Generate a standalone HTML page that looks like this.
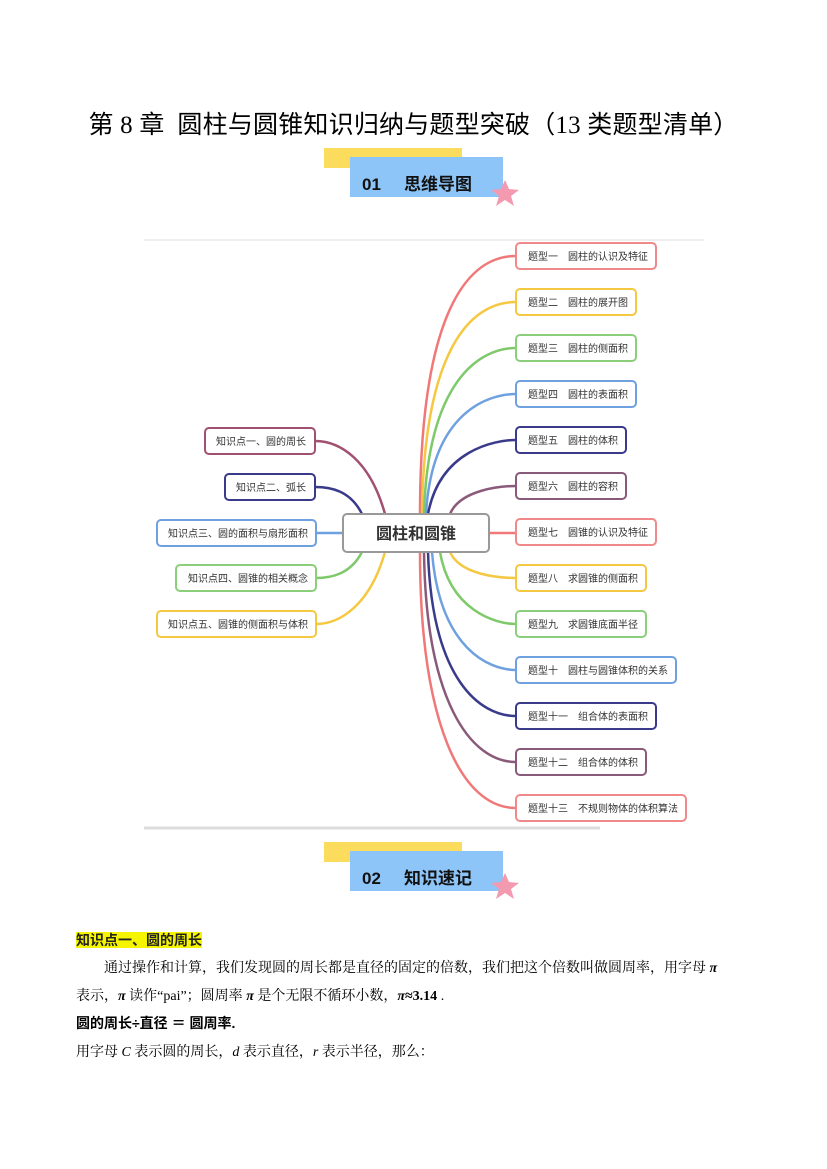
<!DOCTYPE html>
<html><head><meta charset="utf-8"><style>
body{margin:0;background:#fff;}
.pg{position:relative;width:827px;height:1169px;overflow:hidden;font-family:"Liberation Serif","Noto Serif CJK SC",serif;color:#000}
.t{position:absolute;left:0;width:827px;top:105px;text-align:center;font-size:25px;letter-spacing:0.2px;font-family:"Liberation Serif","Noto Sans CJK SC",sans-serif;}
.ln{position:absolute;left:76px;font-size:14px;font-family:"Liberation Serif","Noto Serif CJK SC",serif;white-space:nowrap}
</style></head><body><div class="pg">
<div class="t">第 8 章&nbsp; 圆柱与圆锥知识归纳与题型突破（13 类题型清单）</div>

<svg width="827" height="1169" style="position:absolute;left:0;top:0" font-family="Liberation Sans,Noto Sans CJK SC,sans-serif">
<rect x="324" y="148" width="138" height="20" fill="#fcdc5c"/>
<rect x="350" y="157" width="153" height="40" fill="#8ec5f8"/>
<text x="362" y="190" font-size="17" font-weight="bold" fill="#111">01</text>
<text x="404" y="190" font-size="17" font-weight="bold" fill="#111">思维导图</text>
<polygon points="505,180 509,189 519,190 511,196 514,206 505,200 496,206 499,196 491,190 501,189" fill="#f49ab0"/>
<rect x="324" y="842" width="138" height="20" fill="#fcdc5c"/>
<rect x="350" y="851" width="153" height="40" fill="#8ec5f8"/>
<text x="362" y="884" font-size="17" font-weight="bold" fill="#111">02</text>
<text x="404" y="884" font-size="17" font-weight="bold" fill="#111">知识速记</text>
<polygon points="505,873 509,882 519,883 511,889 514,899 505,893 496,899 499,889 491,883 501,882" fill="#f49ab0"/>

<line x1="144" y1="240" x2="704" y2="240" stroke="#eee" stroke-width="2"/>
<line x1="144" y1="828" x2="600" y2="828" stroke="#ddd" stroke-width="3"/>

<g fill="none" stroke-width="2.5">
<path d="M420,514 C420,330 460,256 516,256" stroke="#f07878"/>
<path d="M422,514 C424,350 470,302 516,302" stroke="#f5c842"/>
<path d="M424,514 C428,380 480,348 516,348" stroke="#7ec96a"/>
<path d="M426,514 C432,410 490,394 516,394" stroke="#6fa0e0"/>
<path d="M428,514 C440,450 495,440 516,440" stroke="#3a3a8a"/>
<path d="M450,514 C460,490 500,486 516,486" stroke="#8a5a7a"/>
<path d="M489,533 L516,533" stroke="#f07878"/>
<path d="M450,552 C460,575 500,578 516,578" stroke="#f5c842"/>
<path d="M440,552 C450,610 495,624 516,624" stroke="#7ec96a"/>
<path d="M432,552 C440,650 490,670 516,670" stroke="#6fa0e0"/>
<path d="M428,552 C432,680 480,716 516,716" stroke="#3a3a8a"/>
<path d="M424,552 C426,700 470,762 516,762" stroke="#8a5a7a"/>
<path d="M420,552 C420,720 460,808 516,808" stroke="#f07878"/>
<path d="M385,514 C370,460 340,441 315,441" stroke="#a05070"/>
<path d="M362,514 C350,490 330,487 315,487" stroke="#3a3a8a"/>
<path d="M343,533 L316,533" stroke="#6fa0e0"/>
<path d="M362,552 C350,575 330,578 316,578" stroke="#7ec96a"/>
<path d="M385,552 C370,605 340,624 316,624" stroke="#f5c842"/>
</g>

<g font-size="10" fill="#333" stroke-width="2">
<rect x="343" y="514" width="146" height="38" rx="4" fill="#fff" stroke="#999"/>
<text x="416" y="539" font-size="16" font-weight="bold" text-anchor="middle" fill="#333">圆柱和圆锥</text>
<rect x="516" y="243" width="140" height="26" rx="4" fill="#fff" stroke="#f08a8a"/><text x="528" y="260">题型一　圆柱的认识及特征</text>
<rect x="516" y="289" width="120" height="26" rx="4" fill="#fff" stroke="#f5c842"/><text x="528" y="306">题型二　圆柱的展开图</text>
<rect x="516" y="335" width="120" height="26" rx="4" fill="#fff" stroke="#8ccf7a"/><text x="528" y="352">题型三　圆柱的侧面积</text>
<rect x="516" y="381" width="120" height="26" rx="4" fill="#fff" stroke="#6fa0e0"/><text x="528" y="398">题型四　圆柱的表面积</text>
<rect x="516" y="427" width="110" height="26" rx="4" fill="#fff" stroke="#3a3a8a"/><text x="528" y="444">题型五　圆柱的体积</text>
<rect x="516" y="473" width="110" height="26" rx="4" fill="#fff" stroke="#8a5a7a"/><text x="528" y="490">题型六　圆柱的容积</text>
<rect x="516" y="519" width="140" height="26" rx="4" fill="#fff" stroke="#f08a8a"/><text x="528" y="536">题型七　圆锥的认识及特征</text>
<rect x="516" y="565" width="130" height="26" rx="4" fill="#fff" stroke="#f5c842"/><text x="528" y="582">题型八　求圆锥的侧面积</text>
<rect x="516" y="611" width="130" height="26" rx="4" fill="#fff" stroke="#8ccf7a"/><text x="528" y="628">题型九　求圆锥底面半径</text>
<rect x="516" y="657" width="160" height="26" rx="4" fill="#fff" stroke="#6fa0e0"/><text x="528" y="674">题型十　圆柱与圆锥体积的关系</text>
<rect x="516" y="703" width="140" height="26" rx="4" fill="#fff" stroke="#3a3a8a"/><text x="528" y="720">题型十一　组合体的表面积</text>
<rect x="516" y="749" width="130" height="26" rx="4" fill="#fff" stroke="#8a5a7a"/><text x="528" y="766">题型十二　组合体的体积</text>
<rect x="516" y="795" width="170" height="26" rx="4" fill="#fff" stroke="#f08a8a"/><text x="528" y="812">题型十三　不规则物体的体积算法</text>
<rect x="205" y="428" width="110" height="26" rx="4" fill="#fff" stroke="#a05070"/><text x="216" y="445">知识点一、圆的周长</text>
<rect x="225" y="474" width="90" height="26" rx="4" fill="#fff" stroke="#3a3a8a"/><text x="236" y="491">知识点二、弧长</text>
<rect x="157" y="520" width="159" height="26" rx="4" fill="#fff" stroke="#6fa0e0"/><text x="168" y="537">知识点三、圆的面积与扇形面积</text>
<rect x="176" y="565" width="140" height="26" rx="4" fill="#fff" stroke="#8ccf7a"/><text x="188" y="582">知识点四、圆锥的相关概念</text>
<rect x="157" y="611" width="159" height="26" rx="4" fill="#fff" stroke="#f5c842"/><text x="168" y="628">知识点五、圆锥的侧面积与体积</text>
</g>
</svg>

<div class="ln" style="top:930px"><span style="background:#f5f500;font-weight:bold;font-family:'Liberation Sans','Noto Sans CJK SC',sans-serif;color:#222">知识点一、圆的周长</span></div>
<div class="ln" style="top:957px;left:104px">通过操作和计算，我们发现圆的周长都是直径的固定的倍数，我们把这个倍数叫做圆周率，用字母 <b><i>π</i></b></div>
<div class="ln" style="top:985px">表示，<b><i>π</i></b> 读作“pai”；圆周率 <b><i>π</i></b> 是个无限不循环小数，<b><i>π</i>≈3.14</b> .</div>
<div class="ln" style="top:1013px;font-weight:bold;font-family:'Liberation Sans','Noto Sans CJK SC',sans-serif">圆的周长÷直径 ＝ 圆周率.</div>
<div class="ln" style="top:1041px">用字母 <i>C</i> 表示圆的周长，<i>d</i> 表示直径，<i>r</i> 表示半径，那么：</div>
</div></body></html>
